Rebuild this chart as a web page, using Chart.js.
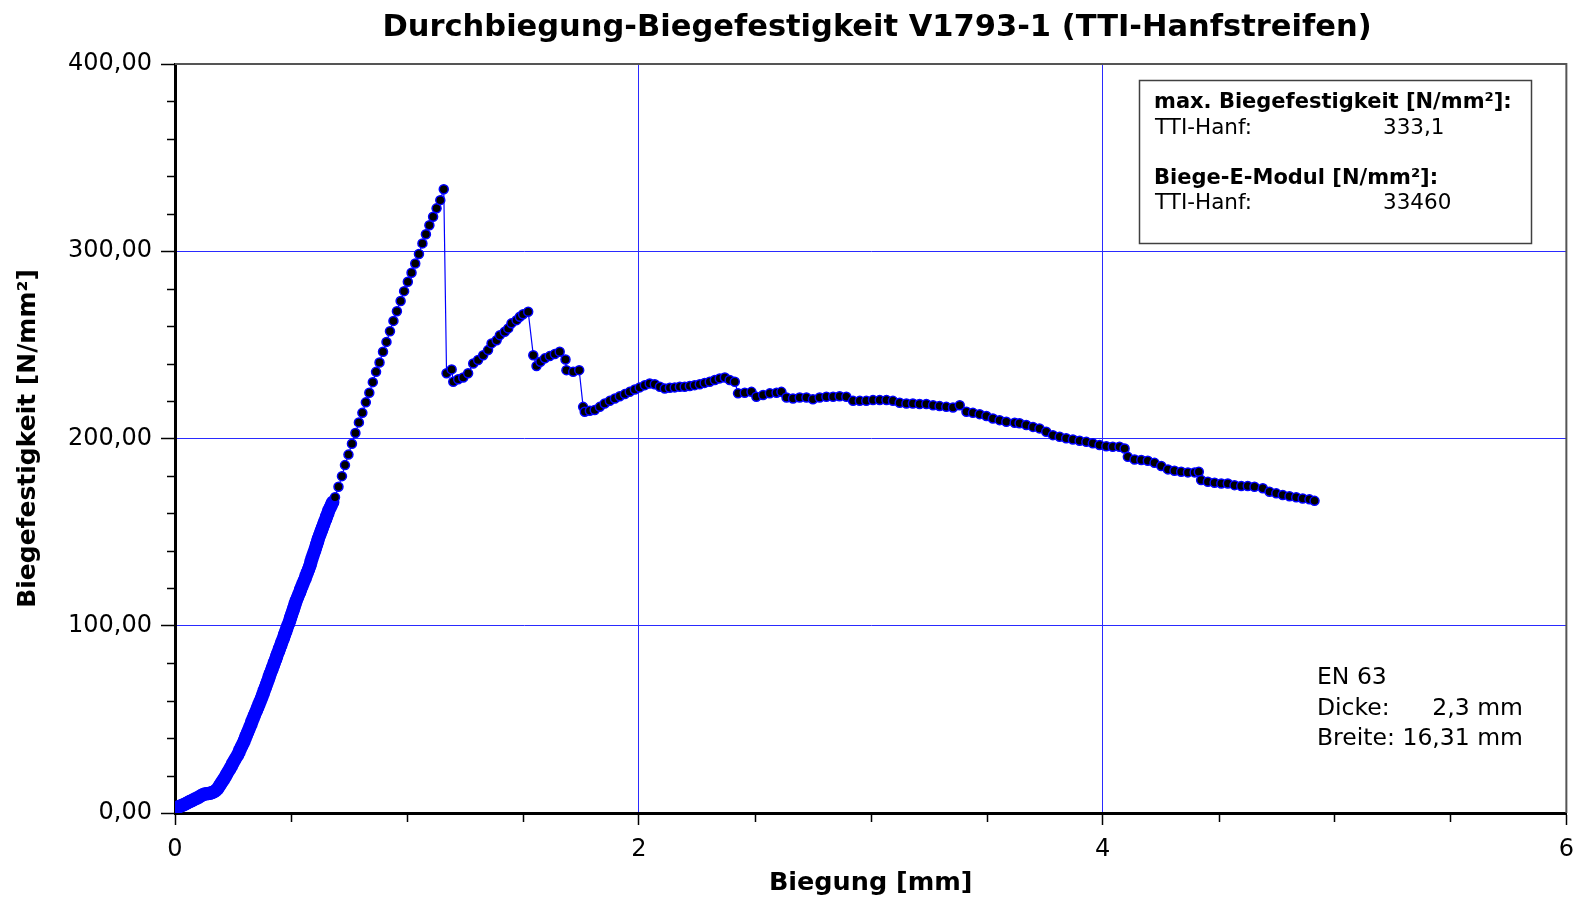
<!DOCTYPE html>
<html>
<head>
<meta charset="utf-8">
<title>Durchbiegung-Biegefestigkeit V1793-1</title>
<script src="https://cdn.jsdelivr.net/npm/chart.js@4"></script>
<style>
  html, body { margin: 0; padding: 0; background: #fff; }
  canvas { display: block; }
</style>
</head>
<body>
<canvas id="chart" width="1584" height="901"></canvas>
<script>
// Biegung [mm], Biegefestigkeit [N/mm²] – dichter Anstieg (viele Messpunkte)
const anstiegPunkte = [
  [0, 2.5], [0.008, 2.9], [0.016, 3.3], [0.024, 3.7], [0.032, 4.1], [0.04, 4.6], [0.048, 5.1], [0.056, 5.6],
  [0.064, 6.1], [0.072, 6.6], [0.08, 7.1], [0.088, 7.6], [0.096, 8.0], [0.104, 8.6], [0.112, 9.2], [0.12, 9.7],
  [0.128, 10.1], [0.136, 10.3], [0.144, 10.4], [0.152, 10.6], [0.16, 10.9], [0.168, 11.3], [0.176, 12.0],
  [0.184, 13.0], [0.19, 14.2], [0.196, 15.4], [0.202, 16.6], [0.208, 17.6],
  [0.215, 19.0], [0.222, 20.5], [0.229, 22.0], [0.236, 23.5], [0.243, 25.0], [0.249, 26.5], [0.256, 28.0],
  [0.263, 29.5], [0.27, 31.0], [0.276, 32.5], [0.281, 34.0], [0.287, 35.5], [0.293, 37.0], [0.298, 38.5],
  [0.303, 40.0], [0.308, 41.5], [0.313, 43.0], [0.318, 44.5], [0.323, 46.0], [0.328, 47.5], [0.332, 49.0],
  [0.337, 50.5], [0.342, 52.0], [0.347, 53.5], [0.352, 55.0], [0.357, 56.5], [0.362, 58.0], [0.367, 59.5],
  [0.372, 61.0], [0.376, 62.5], [0.381, 64.0], [0.385, 65.5], [0.39, 67.0], [0.394, 68.5], [0.398, 70.0],
  [0.403, 71.5], [0.407, 73.0], [0.411, 74.5], [0.416, 76.0], [0.42, 77.5], [0.425, 79.0], [0.429, 80.5],
  [0.434, 82.0], [0.438, 83.5], [0.442, 85.0], [0.447, 86.5], [0.451, 88.0], [0.456, 89.5], [0.46, 91.0],
  [0.465, 92.5], [0.469, 94.0], [0.473, 95.5], [0.478, 97.0], [0.482, 98.5], [0.486, 100.0], [0.491, 101.5],
  [0.495, 103.0], [0.499, 104.5], [0.503, 106.0], [0.507, 107.5], [0.511, 109.0], [0.515, 110.5], [0.519, 112.0],
  [0.523, 113.5], [0.528, 115.0], [0.533, 116.5], [0.538, 118.0], [0.542, 119.5], [0.547, 121.0], [0.552, 122.5],
  [0.557, 124.0], [0.562, 125.5], [0.566, 127.0], [0.571, 128.5], [0.576, 130.0], [0.58, 131.5], [0.584, 133.0],
  [0.587, 134.5], [0.591, 136.0], [0.595, 137.5], [0.599, 139.0], [0.603, 140.5], [0.607, 142.0], [0.611, 143.5],
  [0.615, 145.0], [0.618, 146.5], [0.623, 148.0], [0.627, 149.5], [0.632, 151.0], [0.636, 152.5], [0.641, 154.0],
  [0.645, 155.5], [0.65, 157.0], [0.654, 158.5], [0.659, 160.0], [0.663, 161.5], [0.669, 163.0], [0.674, 164.5],
  [0.68, 166.0]
];

// weiterer Verlauf (einzelne Messpunkte)
const verlaufPunkte = [
  [0.69, 168.6], [0.705, 174.2], [0.72, 179.9], [0.733, 185.8], [0.748, 191.4], [0.763, 197.2], [0.778, 202.9],
  [0.793, 208.6], [0.808, 213.7], [0.823, 219.3], [0.838, 224.4], [0.853, 230.1], [0.867, 235.6], [0.882, 240.6],
  [0.897, 246.3], [0.912, 251.6], [0.927, 257.3], [0.942, 262.8], [0.957, 268.0], [0.973, 273.4], [0.988, 278.7],
  [1.004, 283.7], [1.02, 288.5], [1.036, 293.5], [1.052, 298.5], [1.067, 304.2], [1.082, 309.1], [1.097, 313.9],
  [1.113, 318.4], [1.128, 322.9], [1.144, 327.3], [1.159, 333.1],
  [1.171, 234.8], [1.193, 236.9], [1.2, 230.3], [1.221, 231.6], [1.243, 232.6], [1.264, 234.8], [1.286, 240.1],
  [1.307, 241.9], [1.329, 244.5], [1.35, 247.2], [1.365, 250.8], [1.387, 252.5], [1.401, 255.2], [1.422, 257.0],
  [1.437, 258.8], [1.451, 261.5], [1.473, 263.2], [1.487, 265.0], [1.501, 266.4], [1.523, 267.7],
  [1.545, 244.5], [1.559, 238.7], [1.576, 241.0], [1.595, 242.8], [1.616, 244.0], [1.638, 245.1], [1.659, 246.3],
  [1.684, 242.2], [1.688, 236.5], [1.717, 235.6], [1.743, 236.5],
  [1.76, 216.9], [1.767, 214.3], [1.789, 214.8], [1.81, 215.2], [1.832, 216.9], [1.853, 218.7], [1.875, 220.1],
  [1.897, 221.4], [1.918, 222.6], [1.94, 223.7], [1.961, 224.9], [1.983, 226.2], [2.004, 227.3], [2.026, 228.5],
  [2.047, 229.4], [2.069, 229.0], [2.091, 227.6], [2.112, 226.7], [2.134, 227.1], [2.155, 227.3], [2.177, 227.6],
  [2.198, 227.6], [2.22, 228.0], [2.241, 228.5], [2.263, 229.0], [2.284, 229.7], [2.306, 230.3], [2.328, 231.2],
  [2.349, 232.1], [2.371, 232.6], [2.392, 231.2], [2.414, 230.3],
  [2.428, 224.1], [2.457, 224.4], [2.486, 224.9], [2.507, 222.3], [2.536, 223.2], [2.565, 224.1], [2.594, 224.4],
  [2.615, 224.9], [2.637, 221.9], [2.665, 221.4], [2.694, 221.9], [2.723, 221.9], [2.751, 220.9], [2.78, 221.9],
  [2.809, 222.3], [2.838, 222.3], [2.866, 222.6], [2.895, 222.3], [2.924, 220.1], [2.953, 220.1], [2.981, 220.1],
  [3.01, 220.5], [3.039, 220.5], [3.068, 220.5], [3.096, 220.1], [3.125, 219.1], [3.154, 218.7], [3.182, 218.7],
  [3.211, 218.4], [3.24, 218.4], [3.269, 217.8], [3.297, 217.3], [3.326, 216.9], [3.355, 216.6], [3.384, 217.8],
  [3.413, 214.3], [3.441, 213.7], [3.47, 213.0], [3.499, 212.0], [3.527, 210.7], [3.556, 209.8], [3.585, 208.9],
  [3.621, 208.4], [3.642, 208.1], [3.671, 207.2], [3.7, 206.2], [3.728, 205.4], [3.757, 203.6], [3.786, 201.8],
  [3.815, 200.9], [3.843, 200.1], [3.872, 199.5], [3.901, 198.8], [3.93, 198.2], [3.958, 197.4], [3.987, 196.5],
  [4.016, 195.9], [4.044, 195.6], [4.073, 195.6], [4.095, 194.7],
  [4.109, 190.2], [4.138, 188.8], [4.167, 188.5], [4.195, 188.1], [4.224, 187.0], [4.253, 185.3], [4.282, 183.5],
  [4.31, 182.8], [4.339, 182.2], [4.368, 181.9], [4.397, 181.9], [4.415, 182.2],
  [4.425, 177.8], [4.454, 176.9], [4.483, 176.4], [4.512, 176.0], [4.54, 176.0], [4.569, 175.1], [4.598, 174.6],
  [4.626, 174.6], [4.655, 174.2], [4.691, 173.4], [4.72, 171.6], [4.749, 170.7], [4.777, 169.8], [4.806, 169.2],
  [4.835, 168.6], [4.863, 168.0], [4.892, 167.5], [4.914, 166.7]
];

const titel = "Durchbiegung-Biegefestigkeit V1793-1 (TTI-Hanfstreifen)";
const kennwertZeilen = [
  ["max. Biegefestigkeit [N/mm²]:", "TTI-Hanf:", "333,1"],
  ["Biege-E-Modul [N/mm²]:", "TTI-Hanf:", "33460"]
];
const probeZeilen = [["EN 63", ""], ["Dicke:", "2,3 mm"], ["Breite:", "16,31 mm"]];

const BLAU = "#0000ff";
const GITTER = "#2a2aff";
const FONT = "'DejaVu Sans', sans-serif";

Chart.defaults.font.family = FONT;
Chart.defaults.color = "#000";

const alle = anstiegPunkte.concat(verlaufPunkte).map(p => ({ x: p[0], y: p[1] }));
const dicht = i => i < anstiegPunkte.length;

const beschriftung = {
  id: "beschriftung",
  afterDraw(chart) {
    const { ctx, chartArea: a, scales } = chart;
    ctx.save();
    // Rahmen oben/rechts
    ctx.strokeStyle = "#555";
    ctx.lineWidth = 2;
    ctx.beginPath();
    ctx.moveTo(a.left, a.top);
    ctx.lineTo(a.right, a.top);
    ctx.lineTo(a.right, a.bottom);
    ctx.stroke();

    // Zwischenstriche
    ctx.strokeStyle = "#000";
    ctx.lineWidth = 1.5;
    ctx.beginPath();
    for (let v = 20; v < 400; v += 20) {
      if (v % 100 === 0) continue;
      const py = Math.round(scales.y.getPixelForValue(v)) + 0.5;
      ctx.moveTo(a.left - 8, py);
      ctx.lineTo(a.left, py);
    }
    for (let v = 0.5; v < 6; v += 0.5) {
      if (v % 2 === 0) continue;
      const px = Math.round(scales.x.getPixelForValue(v)) + 0.5;
      ctx.moveTo(px, a.bottom);
      ctx.lineTo(px, a.bottom + 9);
    }
    ctx.stroke();

    ctx.fillStyle = "#000";
    ctx.textBaseline = "alphabetic";
    ctx.textAlign = "center";
    ctx.font = "bold 30.5px " + FONT;
    ctx.fillText(titel, 877, 36);

    // Kennwert-Kasten
    ctx.strokeStyle = "#404040";
    ctx.lineWidth = 1.5;
    ctx.strokeRect(1139.5, 80.5, 392, 163);
    ctx.textAlign = "left";
    const zeilenY = [[107.5, 134], [184, 209.3]];
    kennwertZeilen.forEach((z, i) => {
      ctx.font = "bold 21px " + FONT;
      ctx.fillText(z[0], 1154, zeilenY[i][0]);
      ctx.font = "21.5px " + FONT;
      ctx.fillText(z[1], 1155, zeilenY[i][1]);
      ctx.fillText(z[2], 1383, zeilenY[i][1]);
    });

    // Probendaten
    ctx.font = "23.5px " + FONT;
    probeZeilen.forEach((z, i) => {
      const py = 684 + i * 30.5;
      ctx.textAlign = "left";
      ctx.fillText(z[0], 1317, py);
      ctx.textAlign = "right";
      ctx.fillText(z[1], 1523, py);
    });
    ctx.restore();
  }
};

new Chart(document.getElementById("chart"), {
  type: "scatter",
  data: {
    datasets: [{
      data: alle,
      showLine: true,
      borderColor: BLAU,
      borderWidth: 1.2,
      pointRadius: c => (dicht(c.dataIndex) ? 6 : 4.5),
      pointBackgroundColor: c => (dicht(c.dataIndex) ? BLAU : "#000"),
      pointBorderColor: BLAU,
      pointBorderWidth: 1.5
    }]
  },
  options: {
    responsive: false,
    animation: false,
    events: [],
    layout: { padding: { top: 64, right: 16, left: 0, bottom: 0 } },
    plugins: { legend: { display: false }, tooltip: { enabled: false }, title: { display: false } },
    scales: {
      x: {
        type: "linear",
        min: 0,
        max: 6,
        ticks: { stepSize: 2, font: { size: 24 }, padding: 10, color: "#000" },
        grid: {
          color: c => (c.tick && c.tick.value > 0 && c.tick.value < 6 ? GITTER : "transparent"),
          tickColor: "#000",
          tickWidth: 1.5,
          tickLength: 12
        },
        border: { color: "#000", width: 3 },
        title: { display: true, text: "Biegung [mm]", font: { size: 25.5, weight: "bold" }, padding: { top: 0, bottom: 2 } },
        afterFit: s => { s.height = 88; }
      },
      y: {
        type: "linear",
        min: 0,
        max: 400,
        ticks: {
          stepSize: 100,
          font: { size: 24 },
          padding: 9,
          color: "#000",
          callback: v => v.toFixed(2).replace(".", ",")
        },
        grid: {
          color: c => (c.tick && c.tick.value > 0 && c.tick.value < 400 ? GITTER : "transparent"),
          tickColor: "#000",
          tickWidth: 1.5,
          tickLength: 14
        },
        border: { color: "#000", width: 3 },
        title: { display: true, text: "Biegefestigkeit [N/mm²]", font: { size: 25, weight: "bold" }, padding: { top: 13, bottom: 0 } },
        afterFit: s => { s.width = 175; }
      }
    }
  },
  plugins: [beschriftung]
});
</script>
</body>
</html>
